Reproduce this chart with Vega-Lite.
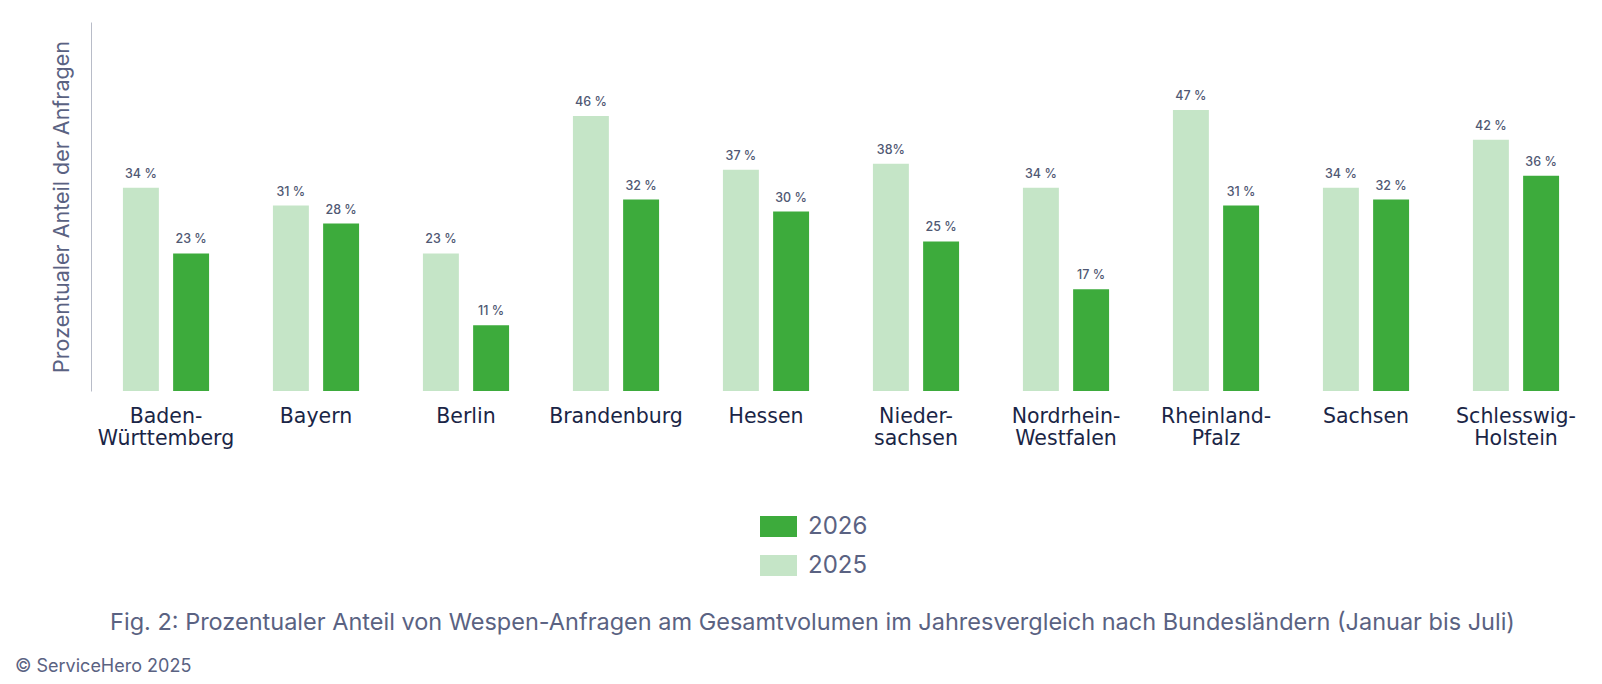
{
  "$schema": "https://vega.github.io/schema/vega-lite/v6.json",
  "width": 1500,
  "height": 369,
  "autosize": {"type": "none"},
  "padding": {"left": 91, "top": 22, "right": 11, "bottom": 293},
  "background": "white",
  "config": {
    "font": "Inter",
    "view": {"stroke": null}
  },
  "title": {
    "text": "© ServiceHero 2025",
    "orient": "bottom",
    "anchor": "start",
    "frame": "group",
    "dx": -76,
    "offset": 24,
    "fontSize": 18,
    "fontWeight": "normal",
    "color": "#5a6282"
  },
  "data": {
    "values": [
      {"land": "Baden-|Württemberg", "jahr": "2025", "anteil": 34, "label": "34 %"},
      {"land": "Baden-|Württemberg", "jahr": "2026", "anteil": 23, "label": "23 %"},
      {"land": "Bayern", "jahr": "2025", "anteil": 31, "label": "31 %"},
      {"land": "Bayern", "jahr": "2026", "anteil": 28, "label": "28 %"},
      {"land": "Berlin", "jahr": "2025", "anteil": 23, "label": "23 %"},
      {"land": "Berlin", "jahr": "2026", "anteil": 11, "label": "11 %"},
      {"land": "Brandenburg", "jahr": "2025", "anteil": 46, "label": "46 %"},
      {"land": "Brandenburg", "jahr": "2026", "anteil": 32, "label": "32 %"},
      {"land": "Hessen", "jahr": "2025", "anteil": 37, "label": "37 %"},
      {"land": "Hessen", "jahr": "2026", "anteil": 30, "label": "30 %"},
      {"land": "Nieder-|sachsen", "jahr": "2025", "anteil": 38, "label": "38%"},
      {"land": "Nieder-|sachsen", "jahr": "2026", "anteil": 25, "label": "25 %"},
      {"land": "Nordrhein-|Westfalen", "jahr": "2025", "anteil": 34, "label": "34 %"},
      {"land": "Nordrhein-|Westfalen", "jahr": "2026", "anteil": 17, "label": "17 %"},
      {"land": "Rheinland-|Pfalz", "jahr": "2025", "anteil": 47, "label": "47 %"},
      {"land": "Rheinland-|Pfalz", "jahr": "2026", "anteil": 31, "label": "31 %"},
      {"land": "Sachsen", "jahr": "2025", "anteil": 34, "label": "34 %"},
      {"land": "Sachsen", "jahr": "2026", "anteil": 32, "label": "32 %"},
      {"land": "Schlesswig-|Holstein", "jahr": "2025", "anteil": 42, "label": "42 %"},
      {"land": "Schlesswig-|Holstein", "jahr": "2026", "anteil": 36, "label": "36 %"}
    ]
  },
  "encoding": {
    "x": {
      "field": "land",
      "type": "nominal",
      "sort": null,
      "scale": {"paddingInner": 0, "paddingOuter": 0},
      "axis": {
        "domain": false,
        "ticks": false,
        "labelAngle": 0,
        "labelExpr": "split(datum.label, '|')",
        "labelFont": "DejaVu Sans",
        "labelFontSize": 20.5,
        "labelFontWeight": "normal",
        "labelColor": "#1a2546",
        "labelLineHeight": 22.6,
        "labelPadding": 15,
        "title": "Fig. 2: Prozentualer Anteil von Wespen-Anfragen am Gesamtvolumen im Jahresvergleich nach Bundesländern (Januar bis Juli)",
        "titleFontSize": 23.5,
        "titleFontWeight": "normal",
        "titleColor": "#5a6282",
        "titleX": 721,
        "titleY": 238,
        "titleAlign": "center",
        "titleBaseline": "alphabetic"
      }
    },
    "xOffset": {
      "field": "jahr",
      "type": "nominal",
      "scale": {"domain": ["2025", "2026"], "paddingInner": 0.284, "paddingOuter": 0.636}
    },
    "y": {
      "field": "anteil",
      "type": "quantitative",
      "scale": {"domain": [0, 61.7], "nice": false},
      "axis": {
        "grid": false,
        "ticks": false,
        "labels": false,
        "domainColor": "#b8bcc8",
        "domainWidth": 1,
        "title": "Prozentualer Anteil der Anfragen",
        "titleFontSize": 21.5,
        "titleFontWeight": "normal",
        "titleColor": "#5a6282",
        "titlePadding": 18
      }
    }
  },
  "layer": [
    {
      "mark": {"type": "bar"},
      "encoding": {
        "color": {
          "field": "jahr",
          "type": "nominal",
          "scale": {"domain": ["2026", "2025"], "range": ["#3dab3c", "#c5e5c7"]},
          "legend": {
            "title": null,
            "orient": "none",
            "legendX": 669,
            "legendY": 486,
            "padding": 0,
            "symbolType": "M-1,-0.57L1,-0.57L1,0.57L-1,0.57Z",
            "symbolSize": 1369,
            "symbolStrokeWidth": 0,
            "labelFontSize": 24,
            "labelColor": "#5a6282",
            "labelOffset": 11,
            "rowPadding": 8
          }
        }
      }
    },
    {
      "mark": {"type": "text", "baseline": "alphabetic", "dy": -10, "fontSize": 12.5, "fontWeight": 500, "color": "#505873"},
      "encoding": {
        "text": {"field": "label"}
      }
    }
  ]
}
